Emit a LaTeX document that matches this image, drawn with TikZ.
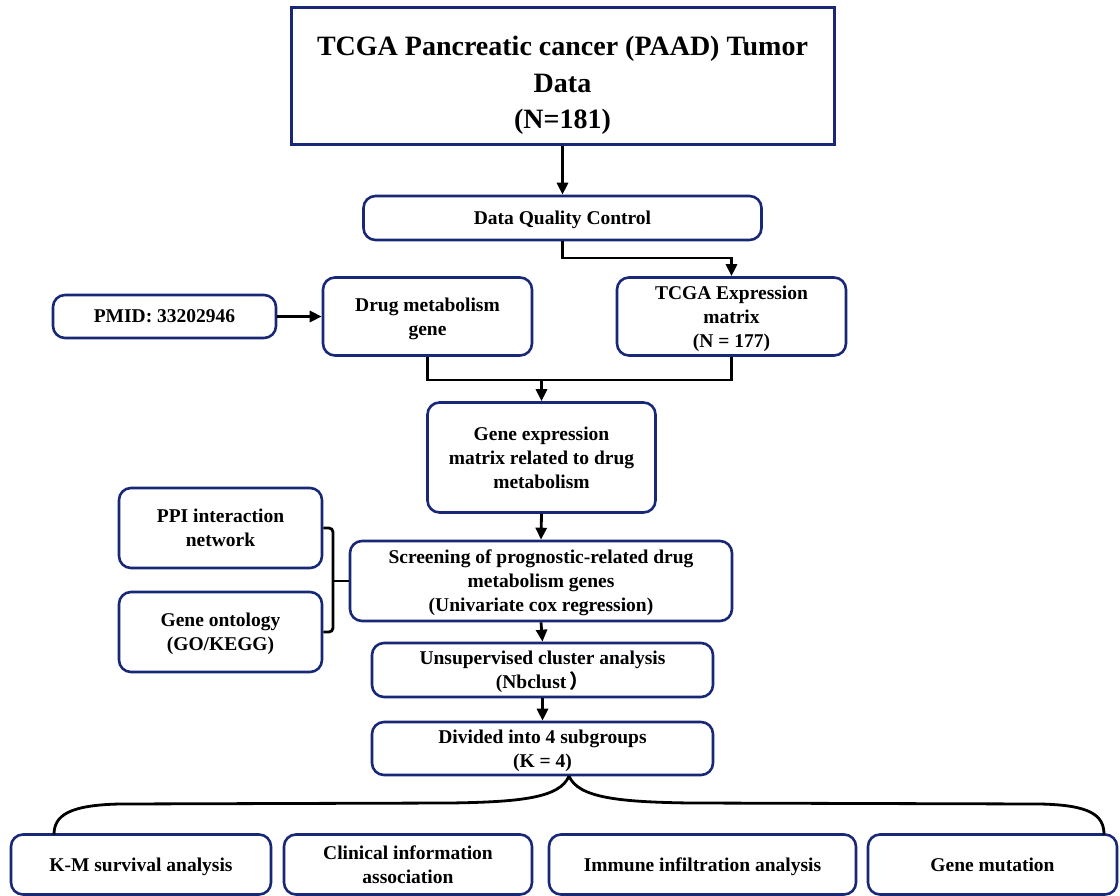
\documentclass[tikz,border=0pt]{standalone}
\usepackage{fontspec}
\setmainfont{Liberation Serif}
\newfontfamily\cjk{Noto Sans CJK SC}
\usetikzlibrary{arrows.meta}
\definecolor{navy}{RGB}{24, 40, 118}

\begin{document}
\begin{tikzpicture}[x=1pt, y=-1pt,
  box/.style={draw=navy, line width=2.6pt, rounded corners=12pt, align=center,
    inner sep=0pt, text depth=0pt, font=\bfseries\fontsize{19.5}{24}\selectfont},
  titlebox/.style={draw=navy, line width=3pt, align=center, inner sep=0pt,
    text depth=0pt, font=\bfseries\fontsize{28}{36.5}\selectfont},
  link/.style={line width=2.8pt, -{Triangle[length=12pt, width=11pt]}},
  wire/.style={line width=2.8pt}]

  \useasboundingbox (0,0) rectangle (1120,896);

  % top of the flow
  \node[titlebox, minimum width=543pt, minimum height=137pt] (title) at (562.5,76.5)
    {\rule{0pt}{32pt}TCGA Pancreatic cancer (PAAD) Tumor\\Data\\(N=181)};
  \node[box, minimum width=398pt, minimum height=44pt] (dqc) at (562.5,218) {Data Quality Control};
  \node[box, minimum width=223pt, minimum height=43pt] (pmid) at (164.5,316.5) {PMID: 33202946};
  \node[box, minimum width=209pt, minimum height=78pt] (drug) at (427.5,316.5) {Drug metabolism\\gene};
  \node[box, minimum width=229pt, minimum height=78pt] (tcga) at (731.5,316.5)
    {TCGA Expression\\matrix\\(N = 177)};
  \node[box, minimum width=228pt, minimum height=110pt] (gem) at (541.5,457.5)
    {Gene expression\\matrix related to drug\\metabolism};

  % screening and side boxes
  \node[box, minimum width=382pt, minimum height=80pt] (screen) at (541,581)
    {Screening of prognostic-related drug\\metabolism genes\\(Univariate cox regression)};
  \node[box, minimum width=203pt, minimum height=80pt] (ppi) at (220.5,528) {PPI interaction\\network};
  \node[box, minimum width=203pt, minimum height=80pt] (onto) at (220.5,632) {Gene ontology\\(GO/KEGG)};
  \node[box, minimum width=341pt, minimum height=54pt] (unsup) at (542.5,670)
    {Unsupervised cluster analysis\\(Nbclust\,{\cjk ）}};
  \node[box, minimum width=341pt, minimum height=53pt] (divided) at (542.5,748.5)
    {Divided into 4 subgroups\\(K = 4)};

  % bottom row
  \node[box, minimum width=260pt, minimum height=60pt] (km) at (141,864.5) {K-M survival analysis};
  \node[box, minimum width=248pt, minimum height=60pt] (clin) at (408,864.5) {Clinical information\\association};
  \node[box, minimum width=307pt, minimum height=60pt] (immune) at (702.5,864.5) {Immune infiltration analysis};
  \node[box, minimum width=249pt, minimum height=60pt] (mut) at (992.5,864.5) {Gene mutation};

  \coordinate (mrg) at (541.5,380);
  \coordinate (brk) at (333,581);
  \coordinate (apex) at (569,776);

  \draw[link] (title.south) -- (dqc.north);
  \draw[link] (dqc.south) |- (731.5,258) -- (tcga.north);
  \draw[link] (pmid.east) -- (drug.west);
  \draw[wire] (drug.south) |- (mrg) -| (tcga.south);
  \draw[link] (mrg) -- (gem.north);
  \draw[link] (gem.south) -- (screen.north);
  \draw[wire, rounded corners=4pt] (ppi.east) -| (brk) |- (onto.east);
  \draw[wire] (brk) -- (screen.west);
  \draw[link] (screen.south) -- (unsup.north);
  \draw[link] (unsup.south) -- (divided.north);

  % brace over the four analyses
  \draw[wire] (apex) .. controls (560,798) and (520,802) .. (450,803)
    -- (120,804) .. controls (70,805) and (54,815) .. (54,834.5);
  \draw[wire] (apex) .. controls (578,798) and (620,802) .. (690,803)
    -- (1040,804) .. controls (1090,805) and (1104,815) .. (1104,834.5);

\end{tikzpicture}
\end{document}
